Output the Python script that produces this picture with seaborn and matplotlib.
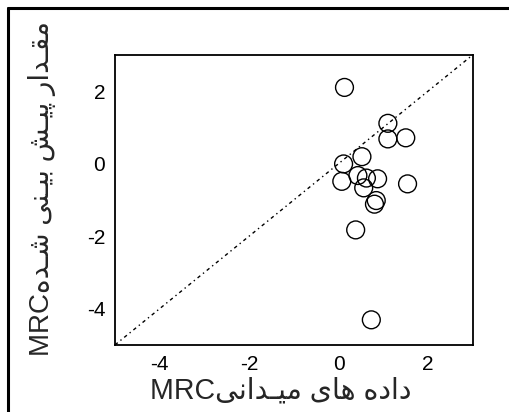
import matplotlib
matplotlib.use("Agg")
import matplotlib.pyplot as plt
import seaborn as sns
import pandas as pd
import numpy as np

# ---- data ----
observed = [0.13, 1.10, 1.10, 1.50, 0.52, 0.11, 0.43, 0.07, 0.87, 0.56, 1.54, 0.80, 0.84, 0.38, 0.73, 0.62]
predicted = [2.10, 1.11, 0.68, 0.71, 0.19, -0.01, -0.33, -0.49, -0.42, -0.67, -0.56, -1.12, -1.02, -1.83, -4.31, -0.40]
line_ends = [-5, 3]
x_ticks = [-4, -2, 0, 2]
y_ticks = [-4, -2, 0, 2]
xlabel_fa = "داده های میـدانی"
ylabel_fa = "مقـدار پیـش بیـنی شـده"
label_latin = "MRC"

# ---- minimal Arabic-script shaping (matplotlib has no complex text layout) ----
FORMS = {
    "\u0627": ("\uFE8D", "\uFE8E"),
    "\u062F": ("\uFEA9", "\uFEAA"),
    "\u0631": ("\uFEAD", "\uFEAE"),
    "\u0628": ("\uFE8F", "\uFE90", "\uFE91", "\uFE92"),
    "\u067E": ("\uFB56", "\uFB57", "\uFB58", "\uFB59"),
    "\u0634": ("\uFEB5", "\uFEB6", "\uFEB7", "\uFEB8"),
    "\u0642": ("\uFED5", "\uFED6", "\uFED7", "\uFED8"),
    "\u0645": ("\uFEE1", "\uFEE2", "\uFEE3", "\uFEE4"),
    "\u0646": ("\uFEE5", "\uFEE6", "\uFEE7", "\uFEE8"),
    "\u0647": ("\uFEE9", "\uFEEA", "\uFEEB", "\uFEEC"),
    "\u06CC": ("\uFBFC", "\uFBFD", "\uFBFE", "\uFBFF"),
    "\u0640": ("\u0640", "\u0640", "\u0640", "\u0640"),
}


def shape(s):
    out = []
    for i, c in enumerate(s):
        if c not in FORMS:
            out.append(c)
            continue
        f = FORMS[c]
        prev = s[i - 1] if i > 0 else None
        nxt = s[i + 1] if i + 1 < len(s) else None
        jp = prev in FORMS and len(FORMS[prev]) == 4
        jn = len(f) == 4 and nxt in FORMS
        if jp and jn:
            out.append(f[3])
        elif jp:
            out.append(f[1])
        elif jn:
            out.append(f[2])
        else:
            out.append(f[0])
    return "".join(out)[::-1]


xlabel = label_latin + shape(xlabel_fa)
ylabel = label_latin + shape(ylabel_fa)

df = pd.DataFrame({"obs": observed, "pred": predicted})

sns.set_style("white")
plt.rcParams["font.family"] = ["Liberation Sans", "DejaVu Sans"]
plt.rcParams["axes.unicode_minus"] = False

W, H = 509, 412
fig = plt.figure(figsize=(W / 100, H / 100), dpi=100)
ax = fig.add_axes([0.226, 0.163, 0.703, 0.704])

ax.plot(line_ends, line_ends, color="black", lw=1.0, linestyle=(0, (2.5, 2.5, 1, 2.5)), zorder=1)
sns.scatterplot(data=df, x="obs", y="pred", ax=ax, marker="o", s=165,
                facecolor="none", edgecolor="black", linewidth=1.0, zorder=3)

ax.set_xlim(-5, 3)
ax.set_ylim(-5, 3)
ax.set_xticks(x_ticks)
ax.set_yticks(y_ticks)
ax.set_xlabel("")
ax.set_ylabel("")
ax.tick_params(direction="in", length=5, width=1, labelsize=15, pad=7, colors="black")
for sp in ax.spines.values():
    sp.set_color("black")
    sp.set_linewidth(1.3)

# axis titles as figure text, sized to span the same length as in the reference
fam = ["Liberation Sans", "DejaVu Sans"]
tx = fig.text(281 / W, 1 - 390 / H, xlabel, ha="center", va="center",
              fontsize=19, family=fam)
ty = fig.text(42 / W, 1 - 189 / H, ylabel, ha="center", va="center", rotation=90,
              fontsize=19, family=fam)
fig.canvas.draw()
r = fig.canvas.get_renderer()
for t, target, dim in [(tx, 262, "w"), (ty, 335, "h")]:
    bb = t.get_window_extent(r)
    cur = bb.width if dim == "w" else bb.height
    t.set_fontsize(t.get_fontsize() * target / cur)

# outer frame (top and left edges visible)
fig.add_artist(plt.Line2D([8 / W, 1.0], [1 - 8 / H, 1 - 8 / H], color="black", lw=2.2, transform=fig.transFigure))
fig.add_artist(plt.Line2D([8 / W, 8 / W], [0.0, 1 - 8 / H], color="black", lw=2.2, transform=fig.transFigure))

fig.savefig("out.png", dpi=100)
